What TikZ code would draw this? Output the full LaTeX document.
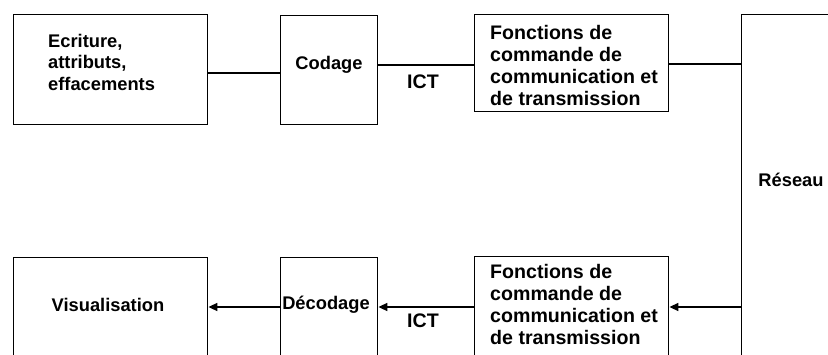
\documentclass[tikz,border=0pt]{standalone}
\usepackage{fontspec}
\setmainfont{Liberation Sans}
\usetikzlibrary{arrows.meta}
\begin{document}
\begin{tikzpicture}[x=1pt,y=-1pt,
  box/.style={draw,line width=1.4pt,inner sep=0pt,anchor=north west},
  lbl/.style={font=\bfseries\fontsize{18.3}{21.5}\selectfont,inner sep=0pt},
  biglbl/.style={font=\bfseries\fontsize{19.6}{22}\selectfont,inner sep=0pt},
  conn/.style={line width=1.6pt},
  arr/.style={conn,-{Triangle[length=9pt,width=8pt]}}]
\useasboundingbox (0,0) rectangle (828,354);
\clip (0,0) rectangle (828,354);
% top row
\node[box,minimum width=194pt,minimum height=110pt] (ecr) at (13,14) {};
\node[box,minimum width=97pt,minimum height=109pt] (cod) at (280,15) {};
\node[box,minimum width=194pt,minimum height=97pt] (fct1) at (474,14) {};
\node[box,minimum width=130pt,minimum height=360pt] (res) at (741,14) {};
% bottom row
\node[box,minimum width=194pt,minimum height=120pt] (vis) at (13,257) {};
\node[box,minimum width=97pt,minimum height=120pt] (dec) at (280,257) {};
\node[box,minimum width=194pt,minimum height=120pt] (fct2) at (474,256) {};
% texts
\node[lbl,align=left,anchor=west] (tecr) at (48,62) {Ecriture,\\attributs,\\effacements};
\node[lbl] (tcod) at (329,65) {Codage};
\node[biglbl,align=left,anchor=west] (tf1) at (490,65) {Fonctions de\\commande de\\communication et\\de transmission};
\node[biglbl] (ict1) at (423,82) {ICT};
\node[lbl] (tres) at (791,180) {Réseau};
\node[lbl] (tvis) at (108,305) {Visualisation};
\node[lbl] (tdec) at (326,305) {Décodage};
\node[biglbl,align=left,anchor=west] (tf2) at (490,304) {Fonctions de\\commande de\\communication et\\de transmission};
\node[biglbl] (ict2) at (423,321) {ICT};
% connectors
\draw[conn] (ecr.east|-0,73) -- (cod.west|-0,73);
\draw[conn] (cod.east|-0,65) -- (fct1.west|-0,65);
\draw[conn] (fct1.east|-0,64) -- (res.west|-0,64);
\draw[arr] (res.west|-0,307) -- (fct2.east|-0,307);
\draw[arr] (fct2.west|-0,307) -- (dec.east|-0,307);
\draw[arr] (dec.west|-0,307) -- (vis.east|-0,307);
\end{tikzpicture}
\end{document}
